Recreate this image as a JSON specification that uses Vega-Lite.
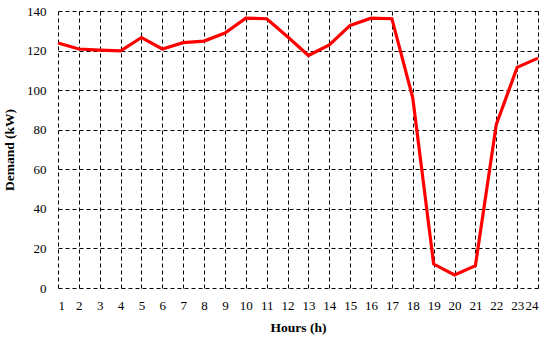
{
  "$schema": "https://vega.github.io/schema/vega-lite/v6.json",
  "autosize": "none",
  "width": 480,
  "height": 277,
  "padding": {"left": 58, "top": 11, "right": 12, "bottom": 51},
  "background": "white",
  "config": {
    "view": {"stroke": null},
    "font": "Liberation Serif",
    "axis": {
      "domain": false,
      "ticks": false,
      "grid": true,
      "gridColor": "#000000",
      "gridDash": [4, 3],
      "gridWidth": 1,
      "gridOpacity": 1,
      "labelFont": "Liberation Serif",
      "labelFontSize": 13,
      "labelColor": "#000000",
      "titleFont": "Liberation Serif",
      "titleFontSize": 13.5,
      "titleFontWeight": "bold",
      "titleColor": "#000000"
    }
  },
  "data": {
    "values": [
      {"hour": 1, "demand": 123.8},
      {"hour": 2, "demand": 120.8},
      {"hour": 3, "demand": 120.2},
      {"hour": 4, "demand": 119.8},
      {"hour": 5, "demand": 126.6},
      {"hour": 6, "demand": 120.8},
      {"hour": 7, "demand": 124.0},
      {"hour": 8, "demand": 124.8},
      {"hour": 9, "demand": 128.9},
      {"hour": 10, "demand": 136.4},
      {"hour": 11, "demand": 136.1},
      {"hour": 12, "demand": 127.0},
      {"hour": 13, "demand": 117.5},
      {"hour": 14, "demand": 122.9},
      {"hour": 15, "demand": 132.7},
      {"hour": 16, "demand": 136.4},
      {"hour": 17, "demand": 136.1},
      {"hour": 18, "demand": 96.0},
      {"hour": 19, "demand": 12.1},
      {"hour": 20, "demand": 6.6},
      {"hour": 21, "demand": 11.3},
      {"hour": 22, "demand": 82.5},
      {"hour": 23, "demand": 111.5},
      {"hour": 24, "demand": 116.2}
    ]
  },
  "mark": {"type": "line", "color": "#FF0000", "strokeWidth": 3.2},
  "encoding": {
    "x": {
      "field": "hour",
      "type": "quantitative",
      "scale": {"domain": [1, 24], "nice": false, "zero": false},
      "axis": {"title": "Hours (h)", "values": [1,2,3,4,5,6,7,8,9,10,11,12,13,14,15,16,17,18,19,20,21,22,23,24], "labelPadding": 11, "titlePadding": 8}
    },
    "y": {
      "field": "demand",
      "type": "quantitative",
      "scale": {"domain": [0, 140], "nice": false},
      "axis": {"title": "Demand (kW)", "values": [0,20,40,60,80,100,120,140], "labelPadding": 12, "titlePadding": 10}
    }
  }
}
